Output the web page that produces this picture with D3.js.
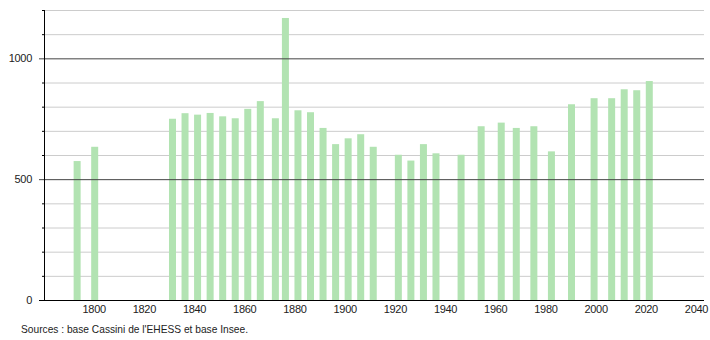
<!DOCTYPE html>
<html>
<head>
<meta charset="utf-8">
<script src="https://cdn.jsdelivr.net/npm/d3@7"></script>
<style>
  body { margin: 0; background: #fff; }
  svg { display: block; font-family: "Liberation Sans", Arial, sans-serif; }
</style>
</head>
<body>
<script>
// Données : recensements
const annees = [1793, 1800, 1831, 1836, 1841, 1846, 1851, 1856, 1861, 1866, 1872, 1876,
  1881, 1886, 1891, 1896, 1901, 1906, 1911, 1921, 1926, 1931, 1936, 1946, 1954, 1962,
  1968, 1975, 1982, 1990, 1999, 2006, 2011, 2016, 2021];
const population = [575, 634, 750, 773, 767, 774, 760, 752, 791, 823, 752, 1167,
  785, 777, 712, 645, 669, 686, 634, 601, 577, 645, 607, 601, 719, 734,
  712, 719, 615, 810, 835, 835, 872, 868, 906];
const ticksX = [1800, 1820, 1840, 1860, 1880, 1900, 1920, 1940, 1960, 1980, 2000, 2020, 2040];
const ticksYMajeurs = [0, 500, 1000];
const ticksYMineurs = [100, 200, 300, 400, 600, 700, 800, 900, 1100, 1200];
const source = "Sources : base Cassini de l'EHESS et base Insee.";

const width = 710, height = 340;
const margin = { left: 44, right: 6, top: 10, bottom: 40 };

const svg = d3.select("body").append("svg")
  .attr("width", width)
  .attr("height", height);

const x = d3.scaleLinear()
  .domain([1780, 2043])
  .range([margin.left, width - margin.right]);

const y = d3.scaleLinear()
  .domain([0, 1200])
  .range([height - margin.bottom, margin.top]);

// grille secondaire
svg.append("g")
  .selectAll("line")
  .data(ticksYMineurs)
  .enter().append("line")
  .attr("x1", margin.left).attr("x2", width - margin.right)
  .attr("y1", d => y(d) + 0.5).attr("y2", d => y(d) + 0.5)
  .attr("stroke", "#cccccc");

// petites graduations
svg.append("g")
  .selectAll("line")
  .data(ticksYMineurs)
  .enter().append("line")
  .attr("x1", margin.left - 2).attr("x2", margin.left)
  .attr("y1", d => y(d) + 0.5).attr("y2", d => y(d) + 0.5)
  .attr("stroke", "#000");

// barres
const largeur = 7;
svg.append("g")
  .selectAll("rect")
  .data(annees)
  .enter().append("rect")
  .attr("x", d => x(d) - largeur / 2 + 0.5)
  .attr("y", (d, i) => y(population[i]))
  .attr("width", largeur)
  .attr("height", (d, i) => y(0) - y(population[i]))
  .attr("fill", "#b2e3b2");

// grille principale
svg.append("g")
  .selectAll("line")
  .data(ticksYMajeurs.filter(d => d > 0))
  .enter().append("line")
  .attr("x1", margin.left - 5).attr("x2", width - margin.right)
  .attr("y1", d => y(d) + 0.5).attr("y2", d => y(d) + 0.5)
  .attr("stroke", "#444");

// axes
svg.append("line")
  .attr("x1", margin.left + 0.5).attr("x2", margin.left + 0.5)
  .attr("y1", margin.top).attr("y2", y(0))
  .attr("stroke", "#000");
svg.append("line")
  .attr("x1", margin.left - 5).attr("x2", width - margin.right)
  .attr("y1", y(0) + 0.5).attr("y2", y(0) + 0.5)
  .attr("stroke", "#000");

// libellés Y
svg.append("g")
  .selectAll("text")
  .data(ticksYMajeurs)
  .enter().append("text")
  .attr("x", 32)
  .attr("y", d => y(d) + 4)
  .attr("text-anchor", "end")
  .attr("font-size", 11)
  .attr("letter-spacing", -0.3)
  .attr("fill", "#222")
  .text(d => d);

// libellés X
svg.append("g")
  .selectAll("text")
  .data(ticksX)
  .enter().append("text")
  .attr("x", d => x(d))
  .attr("y", y(0) + 13)
  .attr("text-anchor", "middle")
  .attr("font-size", 11)
  .attr("letter-spacing", -0.3)
  .attr("fill", "#222")
  .text(d => d);

svg.append("text")
  .attr("x", 21)
  .attr("y", 333)
  .attr("font-size", 10.5)
  .attr("textLength", 227)
  .attr("lengthAdjust", "spacingAndGlyphs")
  .attr("fill", "#222")
  .text(source);
</script>
</body>
</html>
